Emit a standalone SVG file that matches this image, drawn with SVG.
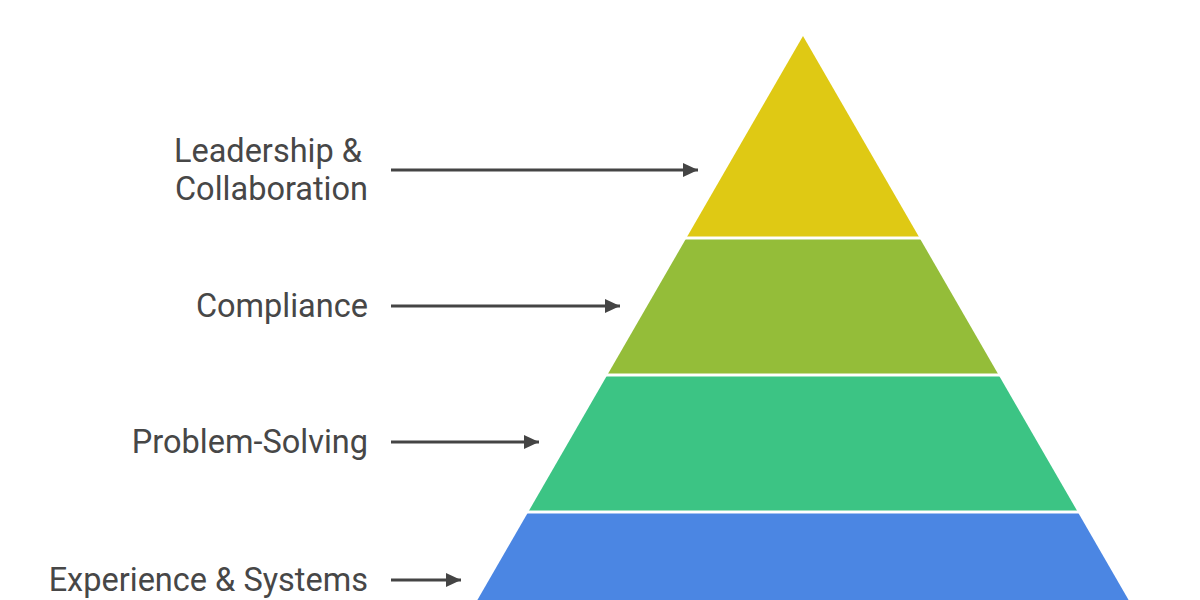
<svg xmlns="http://www.w3.org/2000/svg" width="1200" height="600" viewBox="0 0 1200 600">
<defs>
<style>
.lbl{font-family:Roboto,"Liberation Sans",sans-serif;font-size:32.5px;fill:#474747;text-anchor:end}
.conn line{stroke:#444444;stroke-width:3}
</style>
<marker id="ah" markerWidth="15" markerHeight="14" refX="15" refY="7" orient="auto" markerUnits="userSpaceOnUse">
<path d="M0,0 L15,7 L0,14 Z" fill="#444444"/>
</marker>
<clipPath id="tri"><polygon points="803,36 452,644 1154,644"/></clipPath>
</defs>
<rect width="1200" height="600" fill="#ffffff"/>
<g clip-path="url(#tri)">
<g id="layer-leadership"><rect x="400" y="30" width="800" height="206.5" fill="#DFC914"/></g>
<g id="layer-compliance"><rect x="400" y="239.5" width="800" height="134" fill="#94BD39"/></g>
<g id="layer-problem"><rect x="400" y="376.5" width="800" height="134" fill="#3CC484"/></g>
<g id="layer-experience"><rect x="400" y="513.5" width="800" height="140" fill="#4B86E3"/></g>
</g>
<g id="label-leadership"><text class="lbl" x="362" y="162">Leadership &amp;</text><text class="lbl" x="368" y="200">Collaboration</text></g>
<g id="label-compliance"><text class="lbl" x="368" y="317">Compliance</text></g>
<g id="label-problem"><text class="lbl" x="368" y="453">Problem-Solving</text></g>
<g id="label-experience"><text class="lbl" x="368" y="591">Experience &amp; Systems</text></g>
<g class="conn" id="connectors">
<line x1="391" y1="170" x2="698" y2="170" marker-end="url(#ah)"/>
<line x1="391" y1="306" x2="620" y2="306" marker-end="url(#ah)"/>
<line x1="391" y1="442" x2="539" y2="442" marker-end="url(#ah)"/>
<line x1="391" y1="580" x2="461" y2="580" marker-end="url(#ah)"/>
</g>
</svg>
